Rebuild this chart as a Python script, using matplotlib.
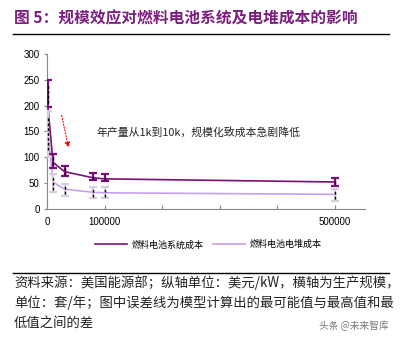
import numpy as np
import matplotlib
matplotlib.use('Agg')
import matplotlib.pyplot as plt

plt.rcParams['font.family'] = ['Noto Sans CJK SC', 'DejaVu Sans']

# data
scale = [1000, 10000, 30000, 80000, 100000, 500000]
sys_cost = [200, 90, 72, 60, 58, 52]
sys_lo = [198, 80, 63, 55, 53, 45]
sys_hi = [250, 107, 82, 70, 68, 60]
stack_cost = [150, 52, 38, 32, 31, 28]
stack_lo = [100, 32, 25, 20, 20, 15]
stack_hi = [190, 68, 48, 42, 42, 38]

x_ticks = [0, 100000, 200000, 300000, 400000, 500000]
x_labels = ['0', '100000', '', '', '', '500000']
y_ticks = [0, 50, 100, 150, 200, 250, 300]

sys_color = '#7a0f7a'
stack_color = '#c9a0f0'
bar_light = '#d8cce0'
title_color = '#7b1f7f'

fig = plt.figure(figsize=(4.04, 3.39), dpi=100)
ax = fig.add_axes([0.117, 0.384, 0.786, 0.457])

def draw_series(x, y, lo, hi, color, capcol, label):
    ax.plot(x, y, color=color, lw=1.2, label=label, zorder=3)
    yerr = [np.array(y) - np.array(lo), np.array(hi) - np.array(y)]
    ax.errorbar(x, y, yerr=yerr, fmt='none', ecolor=capcol,
                elinewidth=1.6, capsize=3, capthick=1.6, zorder=4)
    mid = (np.array(lo) + np.array(hi)) / 2
    half = (np.array(hi) - np.array(lo)) / 2 * 0.7
    ax.vlines(x, mid - half, mid + half, colors='black', linestyles=(0, (2, 1.5)),
              lw=1.0, zorder=5)

draw_series(scale, sys_cost, sys_lo, sys_hi, sys_color, sys_color, '燃料电池系统成本')
draw_series(scale, stack_cost, stack_lo, stack_hi, stack_color, bar_light, '燃料电池电堆成本')

ax.set_xlim(0, 552000)
ax.set_ylim(0, 300)
ax.set_xticks(x_ticks)
ax.set_xticklabels(x_labels)
ax.set_yticks(y_ticks)
for s in ['top', 'right']:
    ax.spines[s].set_visible(False)
for s in ['left', 'bottom']:
    ax.spines[s].set_color('#888888')
ax.tick_params(axis='x', direction='in', length=3, color='#888888', labelsize=7, pad=6)
ax.tick_params(axis='y', direction='out', length=2, color='#888888', labelsize=7)
for lab in ax.get_xticklabels() + ax.get_yticklabels():
    lab.set_family(['Liberation Sans', 'DejaVu Sans'])

ax.annotate('', xy=(38000, 113), xytext=(24000, 186),
            arrowprops=dict(arrowstyle='-|>', color='red', lw=0.8, ls=':',
                            mutation_scale=8))
ax.text(85000, 149, '年产量从1k到10k，规模化致成本急剧降低', fontsize=7.8,
        color='#222222', va='center')

leg = fig.legend(loc='center', bbox_to_anchor=(0.515, 0.278), ncol=2, frameon=False,
                 fontsize=6.5, handlelength=3.6, columnspacing=1.0, handletextpad=0.5)

# title and rules
fig.text(0.035, 0.945, '图 5：规模效应对燃料电池系统及电堆成本的影响', fontsize=11.3,
         fontweight='bold', color=title_color, va='center')
fig.add_artist(plt.Line2D([0.032, 0.962], [0.9, 0.9], color='black', lw=1.0))
fig.add_artist(plt.Line2D([0.032, 0.962], [0.195, 0.195], color='black', lw=1.0))

src = ['资料来源：美国能源部；纵轴单位：美元/kW，横轴为生产规模，',
       '单位：套/年；图中误差线为模型计算出的最可能值与最高值和最',
       '低值之间的差']
for i, line in enumerate(src):
    fig.text(0.035, 0.165 - i * 0.058, line, fontsize=9.6, color='#222222', va='center')

fig.text(0.79, 0.04, '头条 @未来智库', fontsize=7, color='#777777', va='center')

fig.savefig('out.png', dpi=100)
